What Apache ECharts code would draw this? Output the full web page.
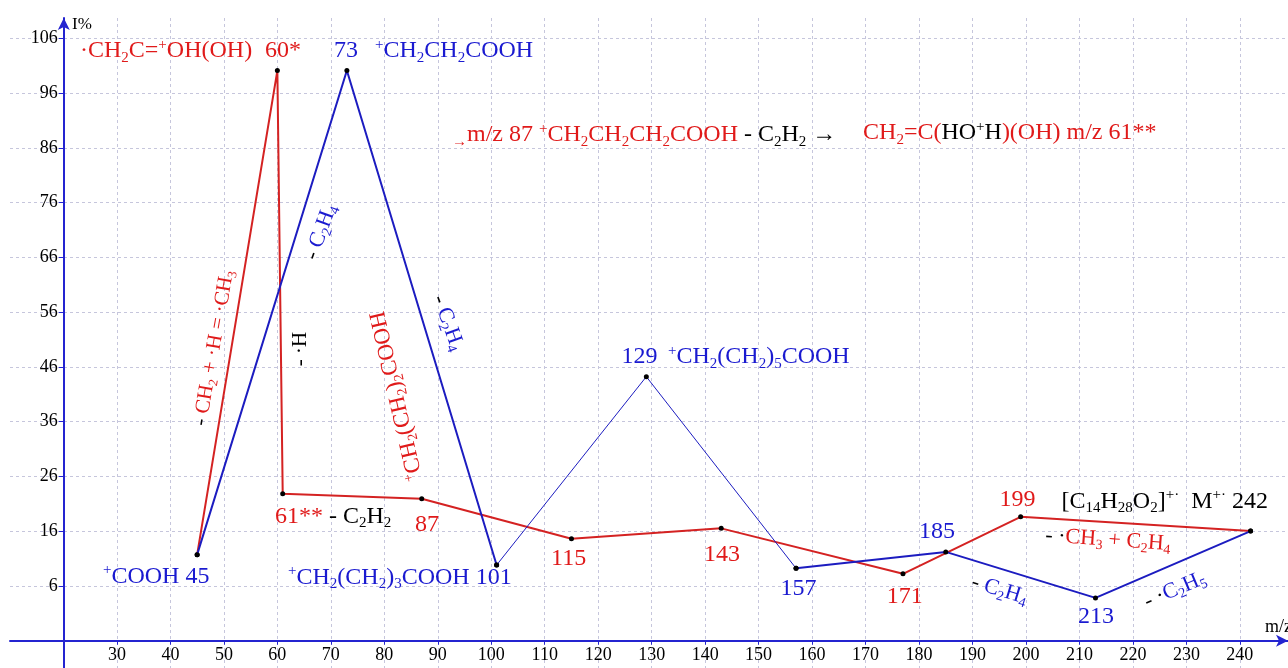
<!DOCTYPE html>
<html><head><meta charset="utf-8">
<script src="https://cdn.jsdelivr.net/npm/echarts@6/dist/echarts.min.js"></script>
<style>html,body{margin:0;padding:0;background:#fff}#c{width:1288px;height:668px}</style>
</head><body><div id="c"></div>
<script>
// ---- data ----
const redX  = [45, 60, 61, 87, 115, 143, 177, 199, 242];
const redY  = [11.7, 100.1, 22.8, 21.9, 14.6, 16.5, 8.2, 18.6, 16.0];
const blueX = [45, 73, 101, 129, 157, 185, 213, 242];
const blueY = [11.7, 100.1, 9.8, 44.2, 9.2, 12.2, 3.8, 16.0];
const xTickLabels = [30, 40, 50, 60, 70, 80, 90, 100, 110, 120, 130, 140, 150, 160, 170, 180, 190, 200, 210, 220, 230, 240];
const yTickLabels = [6, 16, 26, 36, 46, 56, 66, 76, 86, 96, 106];

// ---- styles ----
const FONT = '"Liberation Serif", "Times New Roman", serif';
const RED = '#e01a1a', BLUE = '#1a1ad0', BLACK = '#000000';
const LRED = '#d42222', LBLUE = '#1c1cc0';
const AX = '#2424d0', GRID = '#c6c6dc';
const COLORS = { r: RED, b: BLUE, k: BLACK };

// annotation texts (markup: _x / _{xx} subscript, ^x / ^{xx} superscript)
const annotations = [
  { x: 23.09, y: 103.65, segs: [['r', '·CH_2C=^+OH(OH)']], size: 24 },
  { x: 61.06, y: 103.65, segs: [['r', '60*']], size: 24, align: 'center' },
  { x: 72.84, y: 103.65, segs: [['b', '73']], size: 24, align: 'center' },
  { x: 78.26, y: 103.65, segs: [['b', '^+CH_2CH_2COOH']], size: 24 },
  { x: 92.66, y: 88.32, segs: [['r', '_→m/z 87 ^+CH_2CH_2CH_2COOH'], ['k', ' - C_2H_2 →']], size: 24 },
  { x: 169.53, y: 88.68, segs: [['r', 'CH_2=C('], ['k', 'HO^+H'], ['r', ')(OH) m/z 61**']], size: 24 },
  { x: 127.73, y: 47.78, segs: [['b', '129']], size: 24, align: 'center' },
  { x: 133.06, y: 47.78, segs: [['b', '^+CH_2(CH_2)_5COOH']], size: 24 },
  { x: 27.39, y: 7.61, segs: [['b', '^+COOH 45']], size: 24 },
  { x: 59.56, y: 18.57, segs: [['r', '61**'], ['k', ' - C_2H_2']], size: 24 },
  { x: 85.74, y: 17.11, segs: [['r', '87']], size: 24 },
  { x: 61.99, y: 7.43, segs: [['b', '^+CH_2(CH_2)_3COOH 101']], size: 24 },
  { x: 111.18, y: 10.90, segs: [['r', '115']], size: 24 },
  { x: 139.79, y: 11.63, segs: [['r', '143']], size: 24 },
  { x: 154.10, y: 5.42, segs: [['b', '157']], size: 24 },
  { x: 173.96, y: 4.02, segs: [['r', '171']], size: 24 },
  { x: 180.00, y: 15.89, segs: [['b', '185']], size: 24 },
  { x: 195.06, y: 21.67, segs: [['r', '199']], size: 24 },
  { x: 206.65, y: 21.36, segs: [['k', '[C_{14}H_{28}O_2]^{+·}  M^{+·} 242']], size: 24 },
  { x: 209.74, y: 0.37, segs: [['b', '213']], size: 24 },
  { x: 195.06, y: 5.24, segs: [['k', '- '], ['b', 'C_2H_4']], size: 22, rot: -17, align: 'center' },
  { x: 227.88, y: 5.24, segs: [['k', '- ·'], ['b', 'C_2H_5']], size: 22, rot: 23, align: 'center' },
  { x: 215.35, y: 14.37, segs: [['k', '- ·'], ['r', 'CH_3 + C_2H_4']], size: 22, rot: -4, align: 'center' },
  { x: 68.16, y: 70.61, segs: [['k', '- '], ['b', 'C_2H_4']], size: 22, rot: 70, align: 'center' },
  { x: 91.92, y: 53.99, segs: [['k', '- '], ['b', 'C_2H_4']], size: 22, rot: -70, align: 'center' },
  { x: 48.15, y: 49.43, segs: [['k', '- '], ['r', 'CH_2 + ·H = ·CH_3']], size: 21, rot: 80, align: 'center' },
  { x: 64.24, y: 49.25, segs: [['k', '- ·H']], size: 21, rot: 90, align: 'center' },
  { x: 82.38, y: 40.66, segs: [['r', '^+CH_2(CH_2)_2COOH']], size: 23, rot: 103, align: 'center' },
  { x: 21.6, y: 108.58, segs: [['k', 'I%']], size: 17 },
  { x: 244.71, y: -1.5, segs: [['k', 'm/z']], size: 18 }
];

function toRich(segs) {
  let out = '';
  segs.forEach(([c, txt]) => {
    let buf = '';
    const flush = () => { if (buf) { out += '{' + c + '|' + buf + '}'; buf = ''; } };
    for (let i = 0; i < txt.length; i++) {
      const ch = txt[i];
      if (ch === '_' || ch === '^') {
        flush();
        let piece;
        if (txt[i + 1] === '{') {
          const j = txt.indexOf('}', i + 2);
          piece = txt.slice(i + 2, j); i = j;
        } else { piece = txt[i + 1]; i++; }
        out += '{' + c + (ch === '_' ? 's' : 'p') + '|' + piece + '}';
      } else buf += ch;
    }
    flush();
  });
  return out;
}
function richFor(size) {
  const r = {};
  const small = Math.round(size * 0.62);
  Object.keys(COLORS).forEach(c => {
    r[c] = { color: COLORS[c], fontSize: size, lineHeight: size + 4, fontFamily: FONT, opacity: 1 };
    r[c + 's'] = { color: COLORS[c], fontSize: small, lineHeight: small, verticalAlign: 'bottom', fontFamily: FONT, opacity: 1 };
    r[c + 'p'] = { color: COLORS[c], fontSize: small, lineHeight: small, verticalAlign: 'top', fontFamily: FONT, opacity: 1 };
  });
  return r;
}

const redPts = redX.map((x, i) => [x, redY[i]]);
const bluePts = blueX.map((x, i) => [x, blueY[i]]);

function lineSeries(data, color, width, z) {
  return {
    type: 'line', data, z, silent: true,
    symbol: 'circle', symbolSize: 5, showSymbol: true,
    itemStyle: { color: '#000' },
    lineStyle: { color, width },
    emphasis: { disabled: true }
  };
}

const chart = echarts.init(document.getElementById('c'), null, { renderer: 'canvas' });
chart.setOption({
  animation: false,
  backgroundColor: '#fff',
  grid: { left: 10, right: 0, top: 18, bottom: 0, containLabel: false },
  xAxis: {
    type: 'value', min: 10, max: 249, interval: 10, offset: -27.3,
    axisLine: { show: true, onZero: false, lineStyle: { color: AX, width: 2 }, symbol: ['none', 'arrow'], symbolSize: [9, 12] },
    axisTick: { show: true, length: 4, customValues: xTickLabels, lineStyle: { color: AX } },
    axisLabel: { customValues: xTickLabels, color: BLACK, fontSize: 18, fontFamily: FONT, margin: 6 },
    splitLine: { show: true, lineStyle: { color: GRID, type: [3, 3], width: 1 } }
  },
  yAxis: {
    type: 'value', min: -9, max: 109.7, offset: -53.8,
    axisLine: { show: true, onZero: false, lineStyle: { color: AX, width: 2 }, symbol: ['none', 'arrow'], symbolSize: [9, 12] },
    axisTick: { show: true, length: 5, customValues: yTickLabels, lineStyle: { color: AX } },
    axisLabel: { customValues: yTickLabels, color: BLACK, fontSize: 18, fontFamily: FONT, margin: 6 },
    splitLine: { show: true, lineStyle: { color: GRID, type: [3, 3], width: 1 } }
  },
  series: [
    lineSeries(redPts, LRED, 2, 2),
    lineSeries(bluePts.slice(0, 3), LBLUE, 2, 3),
    lineSeries(bluePts.slice(2, 5), LBLUE, 1, 3),
    lineSeries(bluePts.slice(4), LBLUE, 2, 3),
    {
      type: 'scatter', symbolSize: 0, silent: true, z: 5,
      itemStyle: { opacity: 1 },
      emphasis: { disabled: true },
      data: annotations.map(a => ({
        value: [a.x, a.y],
        label: {
          show: true, position: 'inside', opacity: 1,
          formatter: toRich(a.segs), rich: richFor(a.size),
          rotate: a.rot || 0, align: a.align || 'left', verticalAlign: 'middle'
        }
      }))
    }
  ]
});
</script></body></html>
